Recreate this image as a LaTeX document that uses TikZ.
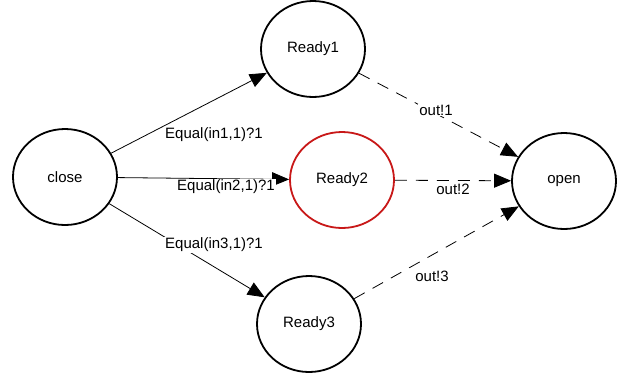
\documentclass[tikz,border=0pt]{standalone}
\usepackage{fontspec}
\setmainfont{Liberation Sans}
\usetikzlibrary{shapes.geometric,arrows.meta}
\definecolor{statered}{RGB}{200,24,24}
\tikzset{
  state/.style={ellipse,draw,line width=1.8pt,minimum width=104pt,minimum height=96pt,inner sep=0pt,font=\fontsize{15}{17}\selectfont},
  trans/.style={line width=0.8pt,-{Triangle[length=17pt,width=14pt]}},
  outtrans/.style={trans,dash pattern=on 12pt off 9pt},
  lbl/.style={fill=white,inner sep=1pt,font=\fontsize{15}{17}\selectfont}
}
\begin{document}
\begin{tikzpicture}[x=1pt,y=-1pt]
  \useasboundingbox (0,0) rectangle (628,378);
  % states
  \node[state] (close)  at (65,177)  {close};
  \node[state] (ready1) at (313,49)  {Ready1};
  \node[state,draw=statered] (ready2) at (342,180) {Ready2};
  \node[state] (ready3) at (309,324) {Ready3};
  \node[state] (open)   at (564,181) {open};
  % input transitions
  \draw[trans] (close) -- (ready1);
  \draw[trans] (close) -- (ready2);
  \draw[trans] (close) -- (ready3);
  % output transitions
  \draw[outtrans] (ready1) -- (open);
  \draw[outtrans] (ready2) -- (open);
  \draw[outtrans] (ready3) -- (open);
  % transition labels
  \node[lbl] (l1) at (214,135) {Equal(in1,1)?1};
  \node[lbl] (l2) at (226,187) {Equal(in2,1)?1};
  \node[lbl] (l3) at (214,245) {Equal(in3,1)?1};
  \node[lbl] (o1) at (436,110) {out!1};
  \node[lbl] (o2) at (453,189) {out!2};
  \node[lbl] (o3) at (432,276) {out!3};
\end{tikzpicture}
\end{document}
